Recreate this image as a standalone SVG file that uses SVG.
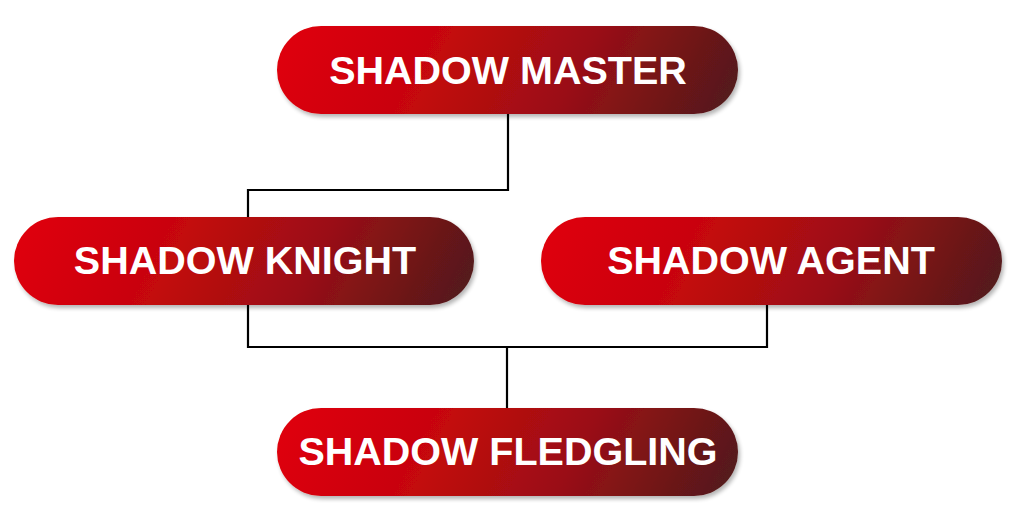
<svg xmlns="http://www.w3.org/2000/svg" width="1024" height="522" viewBox="0 0 1024 522">
  <defs>
    <linearGradient id="pill" x1="0" y1="0.45" x2="1" y2="0.55">
      <stop offset="0" stop-color="#de0007"/>
      <stop offset="0.3" stop-color="#c9060d"/>
      <stop offset="0.65" stop-color="#9a0f14"/>
      <stop offset="1" stop-color="#561a1b"/>
    </linearGradient>
    <filter id="shadow" x="-10%" y="-20%" width="120%" height="150%">
      <feGaussianBlur in="SourceAlpha" stdDeviation="2"/>
      <feOffset dx="2" dy="3" result="b"/>
      <feComponentTransfer><feFuncA type="linear" slope="0.3"/></feComponentTransfer>
      <feMerge><feMergeNode/><feMergeNode in="SourceGraphic"/></feMerge>
    </filter>
  </defs>
  <style>
    .pill { fill: url(#pill); filter: url(#shadow); }
    .label { font-family: "Liberation Sans", Arial, sans-serif; font-weight: bold; font-size: 39.5px; fill: #ffffff; text-anchor: middle; }
    .conn { fill: none; stroke: #000000; stroke-width: 2.2; }
  </style>
  <rect width="1024" height="522" fill="#ffffff"/>
  <g id="connectors">
    <polyline class="conn" points="508,114 508,190 248,190 248,217"/>
    <polyline class="conn" points="248,305 248,347 767,347 767,305"/>
    <line class="conn" x1="507" y1="347" x2="507" y2="408"/>
  </g>
  <g id="shadow-master">
    <rect class="pill" x="277" y="26" width="461" height="88" rx="44"/>
    <text class="label" x="508" y="84">SHADOW MASTER</text>
  </g>
  <g id="shadow-knight">
    <rect class="pill" x="14" y="217" width="460" height="88" rx="44"/>
    <text class="label" x="245" y="274">SHADOW KNIGHT</text>
  </g>
  <g id="shadow-agent">
    <rect class="pill" x="541" y="217" width="461" height="88" rx="44"/>
    <text class="label" x="771" y="274">SHADOW AGENT</text>
  </g>
  <g id="shadow-fledgling">
    <rect class="pill" x="277" y="408" width="461" height="88" rx="44"/>
    <text class="label" x="508" y="465">SHADOW FLEDGLING</text>
  </g>
</svg>
